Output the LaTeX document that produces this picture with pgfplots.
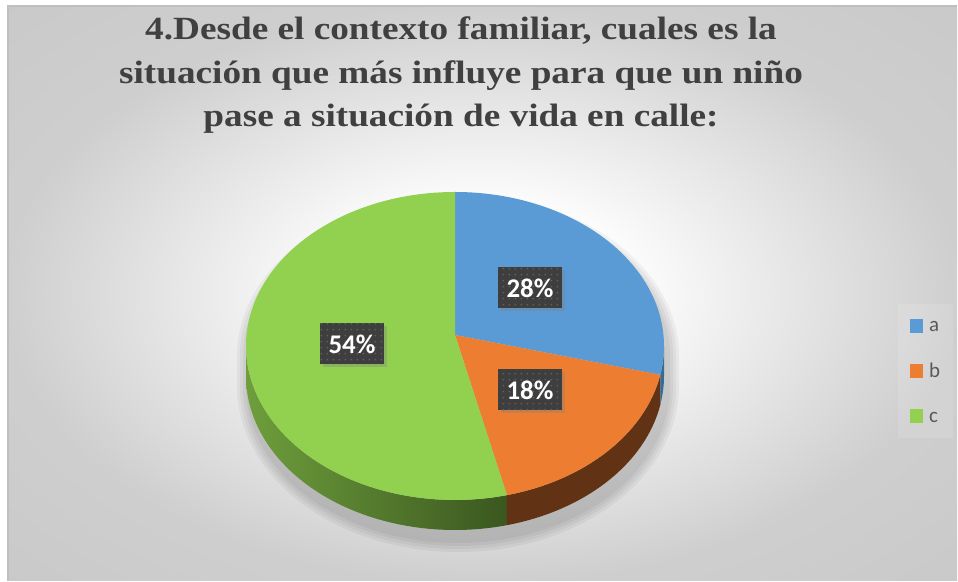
\documentclass[border=0pt]{standalone}
\usepackage{pgfplots}
\pgfplotsset{compat=1.18}
\usepackage{fontspec}
\setmainfont{Liberation Serif}
\newfontfamily\titlefont[FakeStretch=1.15, UprightFont={Liberation Serif Bold}, BoldFont={Liberation Serif Bold}]{Liberation Serif}
\newfontfamily\calibri{Carlito}
\usetikzlibrary{patterns.meta, shadows}

\definecolor{cA}{HTML}{5B9BD5}
\definecolor{cB}{HTML}{ED7D31}
\definecolor{cC}{HTML}{92D050}
\definecolor{sA}{HTML}{3A6A94}
\definecolor{sB}{HTML}{613314}
\definecolor{sCl}{HTML}{6E9E3C}
\definecolor{sCd}{HTML}{3A571F}
\definecolor{lblbg}{HTML}{3E3E3E}
\definecolor{titlec}{HTML}{404040}

\pgfdeclareradialshading{chartbg}{\pgfpoint{0bp}{0bp}}{%
  color(0bp)=(white); color(7bp)=(white); color(25bp)=(black!19); color(50bp)=(black!24)}

\tikzdeclarepattern{name=sqdots, type=uncolored,
  bounding box={(0bp,0bp) and (5.5bp,5.5bp)}, tile size={(5.5bp,5.5bp)},
  code={\pgfpathrectangle{\pgfpoint{1.8bp}{1.8bp}}{\pgfpoint{1.6bp}{1.6bp}}\pgfusepath{fill}}}

% shares in percent: a, b, c
\def\va{28}
\def\vb{18}
\def\vc{54}
\pgfmathsetmacro\tA{90-3.6*\va}
\pgfmathsetmacro\tB{\tA-3.6*\vb}
\pgfmathsetmacro\tAf{360+\tA}
\pgfmathsetmacro\tBf{360+\tB}

\tikzset{lbl/.style={fill=lblbg, text=white, inner sep=0pt, minimum width=64bp, minimum height=41bp,
  font=\calibri\bfseries\fontsize{27}{27}\selectfont,
  drop shadow={opacity=0.35, shadow xshift=2.5bp, shadow yshift=-3bp},
  postaction={pattern=sqdots, pattern color=black!62}}}

\begin{document}
\begin{tikzpicture}
\begin{axis}[x=1bp, y=1bp, xmin=0, xmax=958, ymin=0, ymax=581,
  hide axis, clip=false]
  % chart area
  \fill[white] (axis cs:0,0) rectangle (axis cs:958,581);
  \shade[shading=chartbg] (axis cs:8,0) rectangle (axis cs:957,575);
  \draw[black!25, line width=1.2bp] (axis cs:8,0) -- (axis cs:8,575) -- (axis cs:957,575);

  % soft shadow under the pie
  \pgfplotsinvokeforeach{12,9,6,3}{
    \fill[black, opacity=0.045] (axis cs:{458+209+#1},{225}) arc[start angle=0, end angle=180, x radius={(209+#1)*1bp}, y radius={(150+#1)*1bp}]
      -- ++(0bp,-30bp) arc[start angle=180, end angle=360, x radius={(209+#1)*1bp}, y radius={(154+#1)*1bp}] -- cycle;
  }

  % sides
  \shade[left color=sCl, right color=sCd] (axis cs:{455-209},{235}) arc[start angle=180, end angle=\tBf, x radius=209bp, y radius=154bp]
    -- ++(0bp,-30bp) arc[start angle=\tBf, end angle=180, x radius=209bp, y radius=154bp] -- cycle;
  \fill[sB] (axis cs:{455+209*cos(\tBf)},{235+154*sin(\tBf)}) arc[start angle=\tBf, end angle=\tAf, x radius=209bp, y radius=154bp]
    -- ++(0bp,-30bp) arc[start angle=\tAf, end angle=\tBf, x radius=209bp, y radius=154bp] -- cycle;
  \fill[sA] (axis cs:{455+209*cos(\tAf)},{235+154*sin(\tAf)}) arc[start angle=\tAf, end angle=360, x radius=209bp, y radius=154bp]
    -- ++(0bp,-30bp) arc[start angle=360, end angle=\tAf, x radius=209bp, y radius=154bp] -- cycle;

  % top faces
  \fill[cA] (axis cs:455,246) -- (axis cs:455,389) arc[start angle=90, end angle=\tA, x radius=209bp, y radius=154bp] -- cycle;
  \fill[cB] (axis cs:455,246) -- (axis cs:{455+209*cos(\tA)},{235+154*sin(\tA)}) arc[start angle=\tA, end angle=\tB, x radius=209bp, y radius=154bp] -- cycle;
  \fill[cC] (axis cs:455,246) -- (axis cs:455,389) arc[start angle=90, end angle=\tBf, x radius=209bp, y radius=154bp] -- cycle;

  % data labels
  \node[lbl] at (axis cs:530,293) {\va\%};
  \node[lbl] at (axis cs:530,191) {\vb\%};
  \node[lbl] at (axis cs:352,237) {\vc\%};

  % title
  \begin{scope}[every node/.style={text=titlec, font=\titlefont\fontsize{32.5}{32.5}\selectfont, anchor=base, inner sep=0pt}]
    \node at (axis cs:461,541) {4.Desde el contexto familiar, cuales es la};
    \node at (axis cs:461,497) {situación que más influye para que un niño};
    \node at (axis cs:461,454) {pase a situación de vida en calle:};
  \end{scope}

  % legend
  \fill[white, opacity=0.12] (axis cs:898,143) rectangle (axis cs:953,277);
  \fill[cA] (axis cs:910,248) rectangle (axis cs:923,262);
  \fill[cB] (axis cs:910,203) rectangle (axis cs:923,217);
  \fill[cC] (axis cs:910,158) rectangle (axis cs:923,172);
  \begin{scope}[every node/.style={text=black!65, font=\calibri\fontsize{21}{21}\selectfont, anchor=base west, inner sep=0pt}]
    \node at (axis cs:929,249) {a};
    \node at (axis cs:929,203) {b};
    \node at (axis cs:929,158) {c};
  \end{scope}
\end{axis}
\end{tikzpicture}
\end{document}
